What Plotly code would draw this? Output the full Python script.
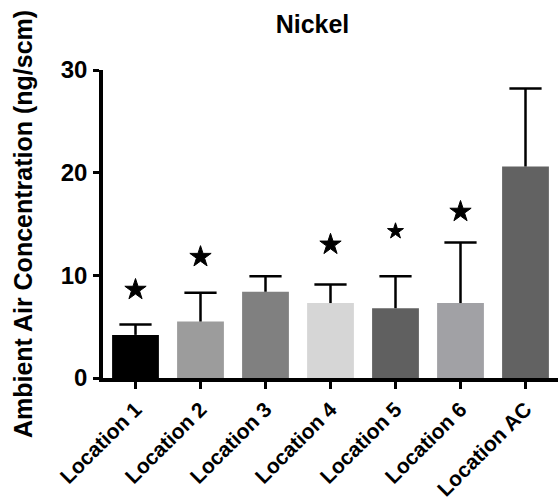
import plotly.graph_objects as go

categories = ["Location 1", "Location 2", "Location 3", "Location 4",
              "Location 5", "Location 6", "Location AC"]
means = [4.2, 5.5, 8.4, 7.3, 6.8, 7.3, 20.6]
upper_err = [1.0, 2.8, 1.5, 1.8, 3.1, 5.9, 7.6]
bar_colors = ["#000000", "#9c9c9c", "#808080", "#d6d6d6", "#606060", "#a1a1a5", "#626262"]
star_y = [8.6, 11.8, None, 13.0, 14.3, 16.2, None]
star_size = [16, 16, 0, 16, 12, 16, 0]
y_ticks = [0, 10, 20, 30]

FONT = "Liberation Sans, Arial, sans-serif"

tops = [m + e for m, e in zip(means, upper_err)]

fig = go.Figure()
fig.add_trace(go.Bar(
    x=categories, y=means,
    marker=dict(color=bar_colors, line=dict(width=0)),
    error_y=dict(type="data", symmetric=False, array=upper_err,
                 arrayminus=[0] * len(means), color="#000000",
                 thickness=2.5, width=0),
    showlegend=False,
))
# caps only at the top of the error bars
fig.add_trace(go.Scatter(
    x=categories, y=tops, mode="markers",
    marker=dict(symbol="line-ew", size=23, color="#000000",
                line=dict(width=2.5, color="#000000")),
    showlegend=False, hoverinfo="skip",
))
sx = [c for c, s in zip(categories, star_y) if s is not None]
sy = [s for s in star_y if s is not None]
ss = [z for z, s in zip(star_size, star_y) if s is not None]
fig.add_trace(go.Scatter(
    x=sx, y=sy, mode="markers",
    marker=dict(symbol="star", size=ss, color="#000000", opacity=1,
                line=dict(width=1, color="#000000")),
    showlegend=False,
))

fig.update_layout(
    width=558, height=504,
    margin=dict(l=103, r=0, t=70, b=126),
    paper_bgcolor="white", plot_bgcolor="white",
    bargap=0.28,
    title=dict(text="<b>Nickel</b>", x=0.56, xanchor="center",
               y=0.952, yanchor="middle",
               font=dict(family=FONT, size=25, color="#000000")),
    font=dict(family=FONT, color="#000000"),
    xaxis=dict(
        automargin=False,
        showline=True, linecolor="#000000", linewidth=3.5,
        ticks="outside", ticklen=7, tickwidth=3, tickcolor="#000000",
        tickangle=-45,
        tickfont=dict(family=FONT, size=21, color="#000000"),
        tickvals=categories,
        ticktext=["<b>%s</b>" % c for c in categories],
        showgrid=False, zeroline=False,
        range=[-0.5, 6.5],
    ),
    yaxis=dict(
        automargin=False,
        range=[0, 30], tickvals=y_ticks,
        ticktext=["<b>%d</b>" % t for t in y_ticks],
        showline=True, linecolor="#000000", linewidth=3.5,
        ticks="outside", ticklen=6, tickwidth=2.5, tickcolor="#000000",
        ticklabelstandoff=1,
        tickfont=dict(family=FONT, size=24, color="#000000"),
        showgrid=False, zeroline=False,
        title=dict(text="<b>Ambient Air Concentration (ng/scm)</b>",
                   font=dict(family=FONT, size=25, color="#000000"),
                   standoff=22),
    ),
)

fig.write_html("out.html", config={"displayModeBar": False},
               post_script="document.body.style.margin='0';")
